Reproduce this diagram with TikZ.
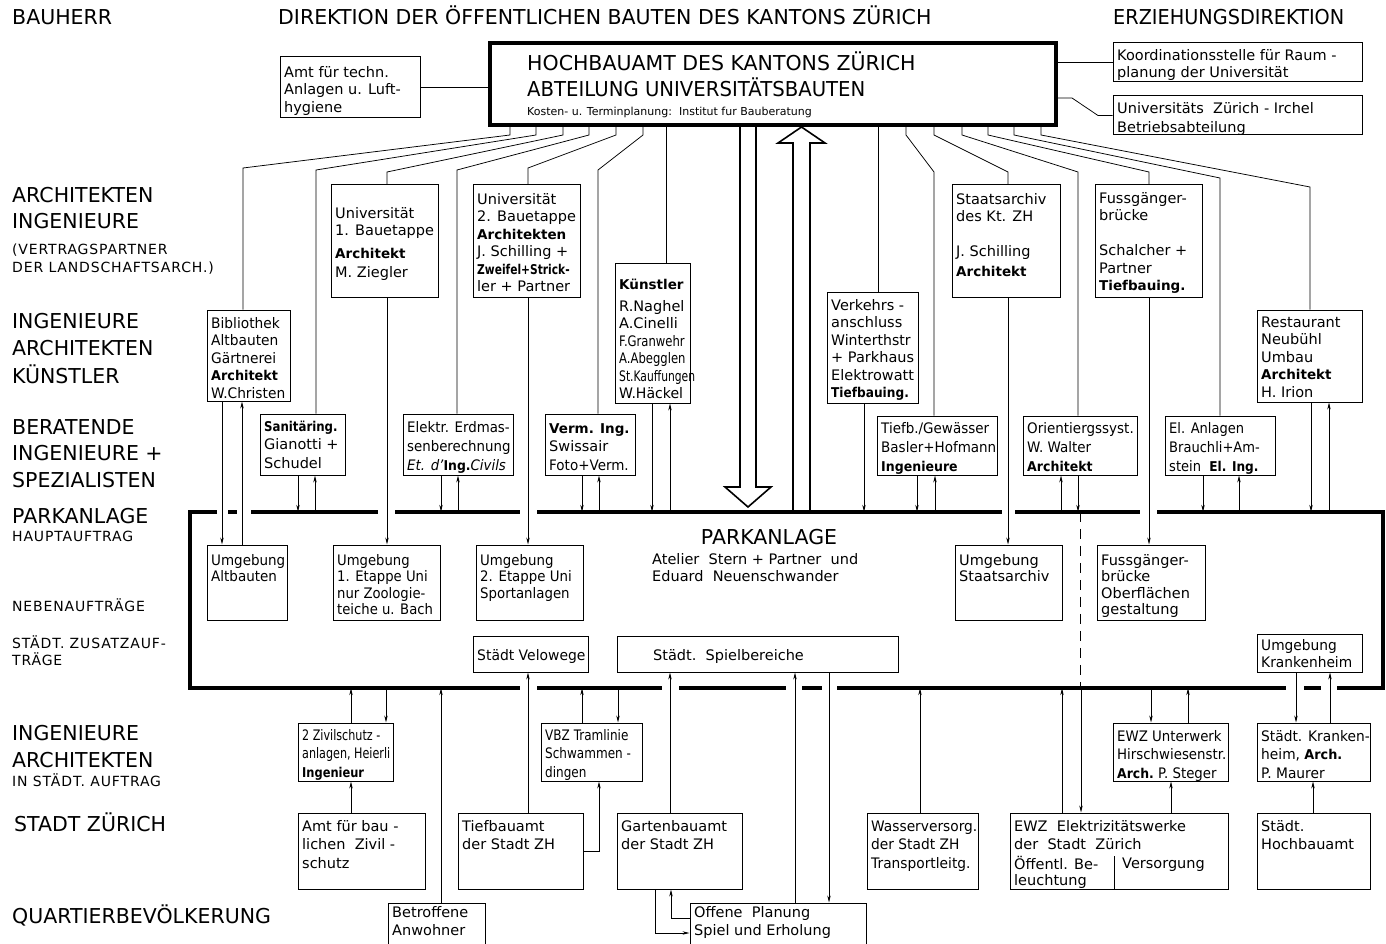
\documentclass[tikz,border=0pt]{standalone}
\usepackage{fontspec}
\setmainfont{DejaVu Sans}
\usepackage{graphicx}
\usetikzlibrary{arrows.meta,fit}
\newcommand\sx[2]{\scalebox{#1}[1]{#2}}
\newcommand\B[1]{{\fontsize{13.5}{17.5}\selectfont\bfseries #1}}
\newcommand\bx[8]{%
 \node[bxs, fit={(#2,#3)(#4,#5)}] (#1) {};
 \node[anchor=north west, inner sep=0pt] (#1t) at (#2+4,#3+#6) {\scalebox{#7}[1]{\fontsize{14.5}{17.5}\selectfont\begin{tabular}{@{}l@{}}#8\end{tabular}}};
}
\tikzset{
 bxs/.style={draw, inner sep=0pt, line width=1pt},
 lab/.style={anchor=base west, inner sep=0pt, font=\fontsize{20.5}{24}\selectfont},
 slab/.style={anchor=base west, inner sep=0pt, font=\fontsize{14}{17}\selectfont\addfontfeatures{LetterSpace=6}},
 txt/.style={anchor=base west, inner sep=0pt, font=\fontsize{14.5}{17.5}\selectfont},
 ln/.style={line width=0.75pt},
 ar/.style={line width=0.75pt, -{Stealth[length=7pt,width=3.4pt]}},
 frame/.style={line width=3.6pt},
 bigarr/.style={line width=1.6pt, line join=miter},
}
\begin{document}
\begin{tikzpicture}[x=1pt,y=-1pt]
\useasboundingbox (0,0) rectangle (1386,944);
% ---------- left labels ----------
\node[lab] (l1) at (12,25) {BAUHERR};
\node[lab] (l2) at (278,25) {DIREKTION DER ÖFFENTLICHEN BAUTEN DES KANTONS ZÜRICH};
\node[lab] (l3) at (1113,25) {\sx{0.94}{ERZIEHUNGSDIREKTION}};
\node[lab] (l4) at (12,203) {ARCHITEKTEN};
\node[lab] (l5) at (12,229) {INGENIEURE};
\node[slab] (l6) at (12,254) {(VERTRAGSPARTNER};
\node[slab] (l7) at (12,272) {DER LANDSCHAFTSARCH.)};
\node[lab] (l8) at (12,328) {INGENIEURE};
\node[lab] (l9) at (12,355) {ARCHITEKTEN};
\node[lab] (l10) at (12,383) {KÜNSTLER};
\node[lab] (l11) at (12,434) {BERATENDE};
\node[lab] (l12) at (12,460) {INGENIEURE +};
\node[lab] (l13) at (12,487) {SPEZIALISTEN};
\node[lab] (l14) at (12,523) {PARKANLAGE};
\node[slab] (l15) at (12,541) {HAUPTAUFTRAG};
\node[slab] (l16) at (12,611) {NEBENAUFTRÄGE};
\node[slab] (l17) at (12,648) {STÄDT. ZUSATZAUF-};
\node[slab] (l18) at (12,665) {TRÄGE};
\node[lab] (l19) at (12,740) {INGENIEURE};
\node[lab] (l20) at (12,767) {ARCHITEKTEN};
\node[slab] (l21) at (12,786) {IN STÄDT. AUFTRAG};
\node[lab] (l22) at (14,831) {STADT ZÜRICH};
\node[lab] (l23) at (12,923) {QUARTIERBEVÖLKERUNG};
% ---------- top ----------
\node[bxs, line width=3.6pt, fit={(490,43)(1056,125)}] (hb) {};
\node[lab] (h1) at (527,71) {HOCHBAUAMT DES KANTONS ZÜRICH};
\node[lab] (h2) at (527,97) {\sx{0.96}{ABTEILUNG UNIVERSITÄTSBAUTEN}};
\node[anchor=base west, inner sep=0pt, font=\fontsize{11}{13}\selectfont] (h3) at (527,116) {Kosten- u. Terminplanung:\ \ Institut fur Bauberatung};
\bx{am}{280}{57}{420}{118}{8}{1}{Amt für techn.\\ Anlagen u. Luft-\\ hygiene}
\bx{ko}{1113}{43}{1362}{82}{5}{1}{Koordinationsstelle für Raum -\\ planung der Universität}
\bx{ir}{1113}{96}{1362}{135}{5}{1}{Universitäts\ \ Zürich - Irchel\\[1.5pt] Betriebsabteilung}
\draw[ln] (am.east) -- (hb.west |- am.east);
\draw[ln] (hb.east |- ko.west) -- (ko.west);
\draw[ln] (hb.east |- 0,98) -- (1072,98) -- (1098,0 |- ir.west) -- (ir.west);
% ---------- architects row ----------
\bx{bi}{207}{310}{290}{401}{6}{0.95}{Bibliothek\\ Altbauten\\ Gärtnerei\\ \B{Architekt}\\ W.Christen}
\bx{zg}{331}{185}{438}{297}{21}{1}{Universität\\ 1. Bauetappe\\[5.5pt] \B{Architekt}\\[1.5pt] M. Ziegler}
\bx{ub}{473}{185}{580}{297}{7}{1}{Universität\\ 2. Bauetappe\\ \B{Architekten}\\ J. Schilling +\\ \sx{0.79}{\B{Zweifel+Strick-}}\\ ler + Partner}
\bx{ku}{615}{263}{690}{403}{14}{1}{\B{Künstler}\\[4.5pt] R.Naghel\\ A.Cinelli\\ \sx{0.8}{F.Granwehr}\\ \sx{0.8}{A.Abegglen}\\ \sx{0.74}{St.Kauffungen}\\ \sx{0.97}{W.Häckel}}
\bx{vk}{827}{292}{918}{403}{6}{1}{Verkehrs -\\ anschluss\\ \sx{0.97}{Winterthstr}\\ + Parkhaus\\ Elektrowatt\\ \sx{0.9}{\B{Tiefbauing.}}}
\bx{st}{952}{185}{1060}{297}{7}{1}{Staatsarchiv\\ des Kt. ZH\\[17pt] J. Schilling\\[2.5pt] \B{Architekt}}
\bx{fu}{1095}{185}{1202}{297}{6}{1}{Fussgänger-\\ brücke\\[17.5pt] Schalcher +\\ Partner\\ \B{Tiefbauing.}}
\bx{re}{1257}{310}{1362}{402}{5}{1}{Restaurant\\ Neubühl\\ Umbau\\ \B{Architekt}\\ H. Irion}
% ---------- consultants row ----------
\bx{sa}{260}{414}{345}{475}{5}{1}{\sx{0.87}{\B{Sanitäring.}}\\[1pt] Gianotti +\\[1pt] Schudel}
\bx{el}{403}{414}{513}{475}{6}{0.92}{Elektr. Erdmas-\\[1.5pt] senberechnung\\[1.5pt] \textit{Et. d'}\B{Ing.}\textit{Civils}}
\bx{vm}{545}{414}{635}{475}{7}{1}{\B{Verm. Ing.}\\[1pt] Swissair\\[1pt] \sx{0.93}{Foto+Verm.}}
\bx{tb}{877}{416}{997}{475}{5}{0.93}{Tiefb./Gewässer\\[1.5pt] Basler+Hofmann\\[1.5pt] \B{Ingenieure}}
\bx{or}{1023}{416}{1137}{475}{5}{0.93}{Orientiergssyst.\\[1.5pt] W. Walter\\[1.5pt] \B{Architekt}}
\bx{ea}{1165}{416}{1275}{475}{5}{0.9}{El. Anlagen\\[1.5pt] Brauchli+Am-\\[1.5pt] stein\ \ \B{El. Ing.}}
% ---------- Parkanlage frame ----------
\node[inner sep=0pt, fit={(190,512)(1383,688)}] (park) {};
\draw[frame] (217,512) -- (190,512) -- (190,688) -- (520,688);
\draw[frame] (228,512) -- (237,512);
\draw[frame] (251,512) -- (378,512);
\draw[frame] (395,512) -- (520,512);
\draw[frame] (537,512) -- (1002,512);
\draw[frame] (1015,512) -- (1140,512);
\draw[frame] (1157,512) -- (1383,512) -- (1383,688) -- (1337,688);
\draw[frame] (537,688) -- (662,688);
\draw[frame] (679,688) -- (786,688);
\draw[frame] (802,688) -- (822,688);
\draw[frame] (837,688) -- (1286,688);
\draw[frame] (1304,688) -- (1321,688);
\node[lab, anchor=base] (pk1) at (769,544) {PARKANLAGE};
\node[txt] (pk2) at (652,564) {Atelier\ \ Stern + Partner\ \ und};
\node[txt] (pk3) at (652,581) {Eduard\ \ Neuenschwander};
\bx{ua}{207}{545}{287}{620}{8}{0.93}{Umgebung\\[-1pt] Altbauten}
\bx{u1}{333}{545}{440}{620}{8}{0.91}{Umgebung\\[-1pt] 1. Etappe Uni\\[-1pt] nur Zoologie-\\[-1pt] teiche u. Bach}
\bx{u2}{476}{545}{583}{620}{8}{0.92}{Umgebung\\[-1pt] 2. Etappe Uni\\[-1pt] Sportanlagen}
\bx{us}{955}{545}{1062}{620}{8}{1}{Umgebung\\[-1pt] Staatsarchiv}
\bx{fo}{1097}{545}{1205}{620}{8}{1}{Fussgänger-\\[-1pt] brücke\\[-1pt] Oberflächen\\[-1pt] gestaltung}
\bx{vw}{473}{636}{588}{672}{12}{0.96}{Städt Velowege}
\bx{sp}{617}{636}{898}{672}{12}{1}{\hspace{32pt}Städt.\ \ Spielbereiche}
\bx{uk}{1257}{634}{1362}{672}{4}{0.95}{Umgebung\\[-0.5pt] Krankenheim}
\draw[ln, dash pattern=on 10pt off 7pt] (1080,0 |- park.north) -- (1080,0 |- park.south);
% ---------- city row ----------
\bx{zv}{298}{723}{393}{781}{5}{0.77}{2 Zivilschutz -\\[1pt] anlagen, Heierli\\[1pt] \sx{1.1}{\B{Ingenieur}}}
\bx{vb}{541}{723}{642}{781}{5}{0.83}{VBZ Tramlinie\\[1pt] Schwammen -\\[1pt] dingen}
\bx{eu}{1113}{723}{1228}{781}{6}{0.92}{EWZ Unterwerk\\[1pt] Hirschwiesenstr.\\[1pt] \B{Arch.}\ P. Steger}
\bx{sk}{1257}{723}{1370}{781}{6}{0.95}{Städt. Kranken-\\[1pt] heim,\ \B{Arch.}\\[1pt] P. Maurer}
\bx{az}{298}{813}{425}{889}{6}{1}{Amt für bau -\\[1pt] lichen\ \ Zivil -\\[1pt] schutz}
\bx{ti}{458}{813}{583}{889}{6}{1}{Tiefbauamt\\[1pt] der Stadt ZH}
\bx{ga}{617}{813}{742}{889}{6}{1}{Gartenbauamt\\[1pt] der Stadt ZH}
\bx{wa}{867}{813}{978}{889}{6}{0.95}{Wasserversorg.\\[1pt] der Stadt ZH\\[1pt] Transportleitg.}
\bx{ew}{1010}{813}{1228}{889}{6}{1}{EWZ\ \ Elektrizitätswerke\\[1pt] der\ \ Stadt\ \ Zürich\\[1pt] Öffentl. Be-\\[-1pt] leuchtung}
\node[txt] (ewv) at (1122,868) {Versorgung};
\draw[ln] (1114,856) -- (1114,0 |- ew.south);
\bx{sh}{1257}{813}{1370}{889}{6}{1}{Städt.\\[1pt] Hochbauamt}
\bx{ba}{388}{903}{485}{948}{2}{1}{Betroffene\\[1pt] Anwohner}
\bx{op}{690}{903}{866}{948}{2}{1}{Offene\ \ Planung\\[1pt] Spiel und Erholung}
% ---------- big arrows ----------
\draw[bigarr] (740,0 |- hb.south) -- (740,487) -- (725,487) -- (748,507) -- (771,487) -- (756,487) -- (756,0 |- hb.south);
\draw[bigarr] (793,0 |- park.north) -- (793,143) -- (778,143) -- (801.5,127) -- (825,143) -- (810,143) -- (810,0 |- park.north);
% ---------- fan from Hochbauamt ----------
\draw[ln] (510,0 |- hb.south) -- (510,135) -- (243,168) -- (243,0 |- bi.north);
\draw[ln] (536,0 |- hb.south) -- (536,135) -- (316,170) -- (316,0 |- sa.north);
\draw[ln] (563,0 |- hb.south) -- (563,135) -- (387,172) -- (387,0 |- zg.north);
\draw[ln] (589,0 |- hb.south) -- (589,135) -- (457,170) -- (457,0 |- el.north);
\draw[ln] (616,0 |- hb.south) -- (616,135) -- (528,168) -- (528,0 |- ub.north);
\draw[ln] (643,0 |- hb.south) -- (643,135) -- (598,170) -- (598,0 |- vm.north);
\draw[ln] (666,0 |- hb.south) -- (666,0 |- ku.north);
\draw[ln] (878,0 |- hb.south) -- (878,0 |- vk.north);
\draw[ln] (906,0 |- hb.south) -- (906,135) -- (934,172) -- (934,0 |- tb.north);
\draw[ln] (934,0 |- hb.south) -- (934,135) -- (1008,172) -- (1008,0 |- st.north);
\draw[ln] (962,0 |- hb.south) -- (962,135) -- (1078,172) -- (1078,0 |- or.north);
\draw[ln] (988,0 |- hb.south) -- (988,135) -- (1149,172) -- (1149,0 |- fu.north);
\draw[ln] (1014,0 |- hb.south) -- (1014,135) -- (1220,178) -- (1220,0 |- ea.north);
\draw[ln] (1041,0 |- hb.south) -- (1041,135) -- (1310,187) -- (1310,0 |- re.north);
% ---------- connections to Parkanlage (top) ----------
\draw[ar] (222,0 |- bi.south) -- (222,0 |- ua.north);
\draw[ar] (242,0 |- ua.north) -- (242,0 |- bi.south);
\draw[ar] (387,0 |- zg.south) -- (387,0 |- u1.north);
\draw[ar] (528,0 |- ub.south) -- (528,0 |- u2.north);
\draw[ar] (1008,0 |- st.south) -- (1008,0 |- us.north);
\draw[ar] (1149,0 |- fu.south) -- (1149,0 |- fo.north);
\draw[ar] (298,0 |- sa.south) -- (298,0 |- park.north);
\draw[ar] (315,0 |- park.north) -- (315,0 |- sa.south);
\draw[ar] (441,0 |- el.south) -- (441,0 |- park.north);
\draw[ar] (458,0 |- park.north) -- (458,0 |- el.south);
\draw[ar] (582,0 |- vm.south) -- (582,0 |- park.north);
\draw[ar] (599,0 |- park.north) -- (599,0 |- vm.south);
\draw[ar] (652,0 |- ku.south) -- (652,0 |- park.north);
\draw[ar] (670,0 |- park.north) -- (670,0 |- ku.south);
\draw[ar] (864,0 |- vk.south) -- (864,0 |- park.north);
\draw[ar] (917,0 |- tb.south) -- (917,0 |- park.north);
\draw[ar] (935,0 |- park.north) -- (935,0 |- tb.south);
\draw[ar] (1061,0 |- park.north) -- (1061,0 |- or.south);
\draw[ar] (1078,0 |- or.south) -- (1078,0 |- park.north);
\draw[ar] (1203,0 |- ea.south) -- (1203,0 |- park.north);
\draw[ar] (1239,0 |- park.north) -- (1239,0 |- ea.south);
\draw[ar] (1311,0 |- re.south) -- (1311,0 |- park.north);
\draw[ar] (1329,0 |- park.north) -- (1329,0 |- re.south);
% ---------- connections below ----------
\draw[ar] (351,0 |- zv.north) -- (351,0 |- park.south);
\draw[ar] (386,0 |- park.south) -- (386,0 |- zv.north);
\draw[ar] (351,0 |- az.north) -- (351,0 |- zv.south);
\draw[ar] (441,0 |- ba.north) -- (441,0 |- park.south);
\draw[ar] (528,0 |- ti.north) -- (528,0 |- vw.south);
\draw[ar] (ti.east) -- (599,0 |- ti.east) -- (599,0 |- vb.south);
\draw[ar] (582,0 |- vb.north) -- (582,0 |- park.south);
\draw[ar] (618,0 |- park.south) -- (618,0 |- vb.north);
\draw[ar] (670,0 |- ga.north) -- (670,0 |- sp.south);
\draw[ar] (655,0 |- ga.south) -- (655,933) -- (op.west |- 0,933);
\draw[ar] (op.west |- 0,918) -- (671,918) -- (671,0 |- ga.south);
\draw[ar] (795,0 |- op.north) -- (795,0 |- sp.south);
\draw[ar] (829,0 |- sp.south) -- (829,0 |- op.north);
\draw[ar] (920,0 |- wa.north) -- (920,0 |- park.south);
\draw[ar] (1062,0 |- ew.north) -- (1062,0 |- park.south);
\draw[ar] (1081,0 |- park.south) -- (1081,0 |- ew.north);
\draw[ar] (1171,0 |- ew.north) -- (1171,0 |- eu.south);
\draw[ar] (1151,0 |- park.south) -- (1151,0 |- eu.north);
\draw[ar] (1188,0 |- eu.north) -- (1188,0 |- park.south);
\draw[ar] (1296,0 |- uk.south) -- (1296,0 |- sk.north);
\draw[ar] (1330,0 |- sk.north) -- (1330,0 |- uk.south);
\draw[ar] (1313,0 |- sh.north) -- (1313,0 |- sk.south);
\end{tikzpicture}
\end{document}
